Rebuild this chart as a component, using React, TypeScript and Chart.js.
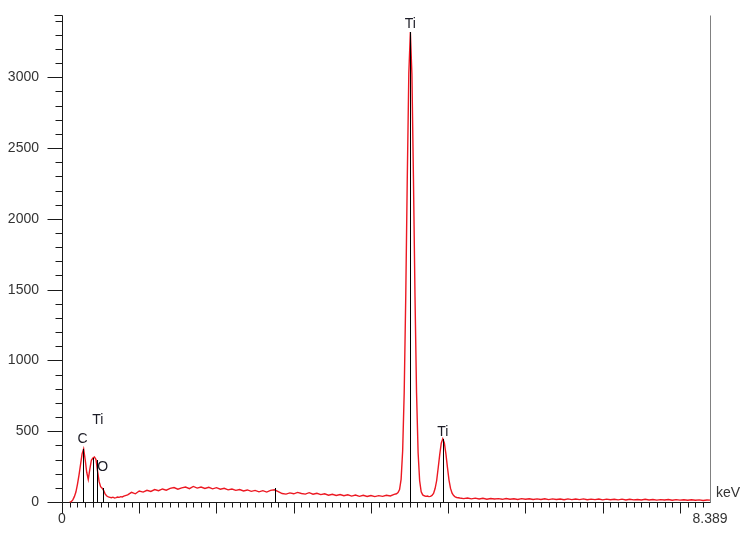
import React, { useEffect, useRef } from "react";
import { Chart, registerables } from "chart.js";

Chart.register(...registerables);

// ---- Spectrum data (counts), grouped by energy segment ----
const lowStart = 0.1;
const lowStep = 0.02;
const lowCounts = [
  0, 2, 15, 38, 70, 125, 190, 265, 340, 375,
  300, 210, 160, 230, 295, 310, 318, 300, 220, 145,
  108, 98, 80, 55, 42, 36, 33, 30, 34, 28,
  31, 35, 33, 38, 36, 41,
];

const contStart = 0.85;
const contStep = 0.05;
const contCounts = [
  50, 68, 58, 78, 70, 83, 75, 88, 80, 92,
  83, 96, 102, 90, 100, 106, 94, 110, 98, 106,
  96, 104, 93, 101, 90, 97, 86, 92, 82, 88,
  78, 85, 75, 82, 72, 80, 70, 82, 86, 74,
  60, 56, 64, 58, 68, 60, 56, 66, 55, 62,
  52, 58, 48, 55, 46, 53, 44, 51, 42, 49,
  40, 47, 39, 46, 38, 45, 40, 48, 43, 54,
];

const kaStart = 4.33;
const kaStep = 0.02;
const kaCounts = [
  58, 66, 88, 160, 360, 770, 1445, 2290, 3030, 3320,
  3020, 2280, 1450, 770, 350, 150, 72, 50, 44, 40,
];

const kbStart = 4.73;
const kbStep = 0.02;
const kbCounts = [
  42, 38, 40, 46, 60, 95, 150, 240, 335, 415,
  446, 418, 340, 245, 155, 96, 62, 45, 36, 32, 30,
];

const tailStart = 5.15;
const tailStep = 0.05;
const tailCounts = [
  28, 24, 28, 22, 27, 21, 26, 20, 25, 21,
  24, 19, 25, 20, 23, 18, 24, 19, 23, 18,
  22, 18, 23, 17, 22, 18, 21, 16, 22, 17,
  21, 17, 22, 16, 20, 17, 21, 15, 20, 16,
  19, 15, 20, 14, 19, 15, 18, 14, 19, 14,
  18, 13, 17, 14, 18, 12, 17, 13, 16, 12,
  16, 12, 15, 11, 14,
];

const endEnergy = 8.389;
const endCount = 13;

// ---- Element marker lines ----
const markerEnergies = [0.277, 0.395, 0.452, 0.535, 2.76, 4.51, 4.93];
const markerHeights = [375, 312, 300, 98, 100, 3320, 446];

// ---- Peak labels ----
const labelTexts = ["C", "Ti", "O", "Ti", "Ti"];
const labelEnergies = [0.265, 0.463, 0.527, 4.51, 4.93];
const labelCounts = [446, 575, 247, 3372, 496];

// ---- Axes ----
const xMin = 0;
const xMax = 8.389;
const xTickLabels = ["0", "8.389"];
const yMin = 0;
const yMax = 3440;
const yTickLabels = [0, 500, 1000, 1500, 2000, 2500, 3000];
const unitLabel = "keV";

const FONT = '"Liberation Sans", Arial, Helvetica, sans-serif';

function segment(start: number, step: number, counts: number[]) {
  return counts.map((c, i) => ({ x: +(start + i * step).toFixed(4), y: c }));
}

const spectrum = [
  ...segment(lowStart, lowStep, lowCounts),
  ...segment(contStart, contStep, contCounts),
  ...segment(kaStart, kaStep, kaCounts),
  ...segment(kbStart, kbStep, kbCounts),
  ...segment(tailStart, tailStep, tailCounts),
  { x: endEnergy, y: endCount },
];

const edsPlugin = {
  id: "edsDecor",
  beforeDatasetsDraw(chart: any) {
    const { ctx, chartArea: a, scales } = chart;
    const x = scales.x;
    const y = scales.y;
    const L = Math.round(a.left) + 0.5;
    const R = Math.round(a.right) + 0.5;
    const B = Math.round(a.bottom) + 0.5;
    const T = Math.round(a.top) + 0.5;
    const seg = (x1: number, y1: number, x2: number, y2: number) => {
      ctx.beginPath();
      ctx.moveTo(x1, y1);
      ctx.lineTo(x2, y2);
      ctx.stroke();
    };
    ctx.save();
    ctx.lineWidth = 1;
    // right frame line
    ctx.strokeStyle = "#808080";
    seg(R, T, R, B);
    ctx.strokeStyle = "#1a1a1a";
    // y axis
    seg(L, T, L, B);
    seg(L - 8, T, L, T);
    for (let v = 0; v <= yMax; v += 100) {
      const py = Math.round(y.getPixelForValue(v)) + 0.5;
      const len = v % 500 === 0 ? 15 : 7;
      seg(L - len, py, L, py);
    }
    // x axis
    seg(L, B, R, B);
    for (let i = 0; i / 10 <= xMax; i++) {
      const px = Math.round(x.getPixelForValue(i / 10)) + 0.5;
      const len = i % 10 === 0 ? 11 : 5;
      seg(px, B, px, B + len);
    }
    ctx.restore();
  },
  afterDatasetsDraw(chart: any) {
    const { ctx, chartArea: a, scales } = chart;
    const x = scales.x;
    const y = scales.y;
    const B = Math.round(a.bottom) + 0.5;
    ctx.save();
    ctx.lineWidth = 1;
    ctx.strokeStyle = "#000000";
    markerEnergies.forEach((e, i) => {
      const px = Math.round(x.getPixelForValue(e)) + 0.5;
      const top = Math.round(y.getPixelForValue(markerHeights[i]));
      ctx.beginPath();
      ctx.moveTo(px, B);
      ctx.lineTo(px, top);
      ctx.stroke();
    });
    ctx.fillStyle = "#1c1c26";
    ctx.font = `14px ${FONT}`;
    ctx.textAlign = "center";
    ctx.textBaseline = "middle";
    labelTexts.forEach((t, i) => {
      ctx.fillText(t, x.getPixelForValue(labelEnergies[i]), y.getPixelForValue(labelCounts[i]));
    });
    ctx.fillStyle = "#333333";
    ctx.textAlign = "left";
    ctx.textBaseline = "alphabetic";
    ctx.fillText(unitLabel, a.right + 6, a.bottom - 5);
    ctx.restore();
  },
};

export default function App() {
  const canvasRef = useRef<HTMLCanvasElement | null>(null);

  useEffect(() => {
    if (!canvasRef.current) return;
    const chart = new Chart(canvasRef.current, {
      type: "line",
      data: {
        datasets: [
          {
            data: spectrum,
            borderColor: "rgb(236, 24, 34)",
            borderWidth: 1.4,
            pointRadius: 0,
            tension: 0,
            fill: false,
            clip: false,
          } as any,
        ],
      },
      options: {
        animation: false,
        responsive: false,
        maintainAspectRatio: false,
        events: [],
        layout: { padding: { top: 15, right: 44, left: 0, bottom: 0 } },
        plugins: {
          legend: { display: false },
          tooltip: { enabled: false },
          title: { display: false },
        },
        scales: {
          x: {
            type: "linear",
            min: xMin,
            max: xMax,
            grid: { display: false },
            border: { display: false },
            afterBuildTicks: (s: any) => {
              s.ticks = [{ value: xMin }, { value: xMax }];
            },
            afterFit: (s: any) => {
              s.height = 35;
              s.paddingLeft = 0;
              s.paddingRight = 0;
            },
            ticks: {
              autoSkip: false,
              maxRotation: 0,
              padding: 1,
              color: "#333333",
              font: { family: FONT, size: 14 },
              callback: (v: any) => (Math.abs(v - xMin) < 1e-6 ? xTickLabels[0] : xTickLabels[1]),
            },
          },
          y: {
            type: "linear",
            min: yMin,
            max: yMax,
            grid: { display: false },
            border: { display: false },
            afterBuildTicks: (s: any) => {
              s.ticks = yTickLabels.map((v) => ({ value: v }));
            },
            afterFit: (s: any) => {
              s.width = 62;
              s.paddingTop = 0;
              s.paddingBottom = 0;
            },
            ticks: {
              autoSkip: false,
              padding: 15,
              color: "#333333",
              font: { family: FONT, size: 14 },
              callback: (v: any) => String(v),
            },
          },
        },
      },
      plugins: [edsPlugin],
    });
    return () => chart.destroy();
  }, []);

  return (
    <div style={{ position: "fixed", left: 0, top: 0, width: 754, height: 537, background: "#ffffff" }}>
      <canvas ref={canvasRef} width={754} height={537} style={{ width: 754, height: 537, display: "block" }} />
    </div>
  );
}
